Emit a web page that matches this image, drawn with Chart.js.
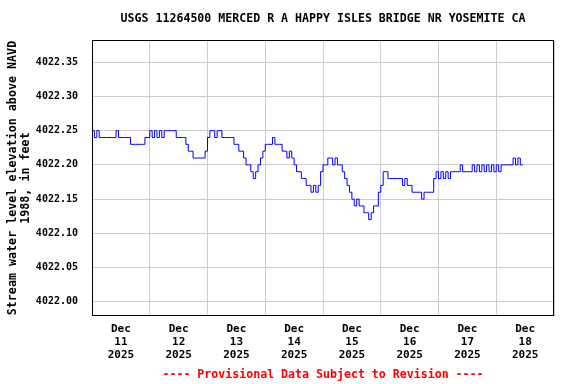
<!DOCTYPE html>
<html>
<head>
<meta charset="utf-8">
<script src="https://cdn.jsdelivr.net/npm/chart.js@4.4.1/dist/chart.umd.min.js"></script>
<style>
  html, body { margin: 0; padding: 0; background: #ffffff; }
  #wrap { width: 576px; height: 384px; }
</style>
</head>
<body>
<div id="wrap"><canvas id="c" width="576" height="384"></canvas></div>
<script>
// ---- Data (hourly readings starting Dec 11 2025 00:00) ----
const titleText = 'USGS 11264500 MERCED R A HAPPY ISLES BRIDGE NR YOSEMITE CA';
const yAxisTitle = ['Stream water level elevation above NAVD', '1988, in feet'];
const footerText = '---- Provisional Data Subject to Revision ----';
const monthLabel = 'Dec';
const yearLabel = '2025';
const dayLabels = ['11', '12', '13', '14', '15', '16', '17', '18'];
const yTickValues = [4022.00, 4022.05, 4022.10, 4022.15, 4022.20, 4022.25, 4022.30, 4022.35];

const dec11 = [4022.25,4022.24,4022.25,4022.24,4022.24,4022.24,4022.24,4022.24,4022.24,4022.24,4022.25,4022.24,
               4022.24,4022.24,4022.24,4022.24,4022.23,4022.23,4022.23,4022.23,4022.23,4022.23,4022.24,4022.24];
const dec12 = [4022.25,4022.24,4022.25,4022.24,4022.25,4022.24,4022.25,4022.25,4022.25,4022.25,4022.25,4022.24,
               4022.24,4022.24,4022.24,4022.23,4022.22,4022.22,4022.21,4022.21,4022.21,4022.21,4022.21,4022.22];
const dec13 = [4022.24,4022.25,4022.25,4022.24,4022.25,4022.25,4022.24,4022.24,4022.24,4022.24,4022.24,4022.23,
               4022.23,4022.22,4022.22,4022.21,4022.20,4022.20,4022.19,4022.18,4022.19,4022.20,4022.21,4022.22];
const dec14 = [4022.23,4022.23,4022.23,4022.24,4022.23,4022.23,4022.23,4022.22,4022.22,4022.21,4022.22,4022.21,
               4022.20,4022.19,4022.19,4022.18,4022.18,4022.17,4022.17,4022.16,4022.17,4022.16,4022.17,4022.19];
const dec15 = [4022.20,4022.20,4022.21,4022.21,4022.20,4022.21,4022.20,4022.20,4022.19,4022.18,4022.17,4022.16,
               4022.15,4022.14,4022.15,4022.14,4022.14,4022.13,4022.13,4022.12,4022.13,4022.14,4022.14,4022.16];
const dec16 = [4022.17,4022.19,4022.19,4022.18,4022.18,4022.18,4022.18,4022.18,4022.18,4022.17,4022.18,4022.17,
               4022.17,4022.16,4022.16,4022.16,4022.16,4022.15,4022.16,4022.16,4022.16,4022.16,4022.18,4022.19];
const dec17 = [4022.18,4022.19,4022.18,4022.19,4022.18,4022.19,4022.19,4022.19,4022.19,4022.20,4022.19,4022.19,
               4022.19,4022.19,4022.20,4022.19,4022.20,4022.19,4022.20,4022.19,4022.20,4022.19,4022.20,4022.19];
const dec18 = [4022.20,4022.19,4022.20,4022.20,4022.20,4022.20,4022.20,4022.21,4022.20,4022.21,4022.20,4022.20];

const levels = [].concat(dec11, dec12, dec13, dec14, dec15, dec16, dec17, dec18);

// ---- Chart ----
const FONT = '"DejaVu Sans Mono", "Liberation Mono", monospace';

const frame = {
  id: 'frame',
  afterDraw(chart) {
    const {ctx, chartArea: a} = chart;
    ctx.save();
    ctx.strokeStyle = '#000000';
    ctx.lineWidth = 1;
    const l = Math.round(a.left) + 0.5, t = Math.round(a.top) + 0.5;
    const r = Math.round(a.right) - 0.5, b = Math.round(a.bottom) - 0.5;
    ctx.strokeRect(l, t, r - l, b - t);
    ctx.restore();
  }
};

new Chart(document.getElementById('c'), {
  type: 'line',
  data: {
    datasets: [{
      data: levels.map((v, i) => ({x: i, y: v})),
      borderColor: '#0000ff',
      borderWidth: 1,
      pointRadius: 0,
      stepped: 'before',
      fill: false
    }]
  },
  options: {
    responsive: false,
    animation: false,
    devicePixelRatio: 1,
    layout: { padding: { left: 0, right: 22, top: 0, bottom: 0 } },
    plugins: {
      legend: { display: false },
      tooltip: { enabled: false },
      title: {
        display: true,
        text: titleText,
        fullSize: false,
        color: '#000000',
        font: { family: FONT, size: 11.6, weight: 'bold', lineHeight: 1.2 },
        padding: { top: 12, bottom: 14.08 }
      },
      subtitle: {
        display: true,
        position: 'bottom',
        text: footerText,
        fullSize: false,
        color: '#ff0000',
        font: { family: FONT, size: 11.6, weight: 'bold', lineHeight: 1.2 },
        padding: { top: 7, bottom: 2 }
      }
    },
    scales: {
      x: {
        type: 'linear',
        min: 0,
        max: 192,
        afterBuildTicks(scale) {
          const t = [];
          for (let i = 0; i <= dayLabels.length * 2; i++) t.push({ value: i * 12 });
          scale.ticks = t;
        },
        afterFit(scale) { scale.height = 45; },
        border: { display: false },
        grid: {
          drawTicks: false,
          color: (c) => (c.tick && c.tick.value % 24 === 0) ? '#cccccc' : 'rgba(0,0,0,0)',
          lineWidth: 1
        },
        ticks: {
          autoSkip: false,
          maxRotation: 0,
          minRotation: 0,
          padding: 7,
          color: '#000000',
          font: { family: FONT, size: 11, weight: 'bold', lineHeight: 1.18 },
          callback: (v) => {
            if (v % 24 !== 12) return '';
            const d = dayLabels[Math.floor(v / 24)];
            return d ? [monthLabel, d, yearLabel] : '';
          }
        }
      },
      y: {
        type: 'linear',
        min: 4021.979,
        max: 4022.3825,
        afterBuildTicks(scale) {
          scale.ticks = yTickValues.map(v => ({ value: v }));
        },
        afterFit(scale) { scale.width = 92; },
        border: { display: false },
        grid: { drawTicks: false, color: '#cccccc', lineWidth: 1 },
        title: {
          display: true,
          text: yAxisTitle,
          color: '#000000',
          font: { family: FONT, size: 11.7, weight: 'bold', lineHeight: 1.11 },
          padding: { top: 6, bottom: 0 }
        },
        ticks: {
          padding: 14,
          color: '#000000',
          font: { family: FONT, size: 10, weight: 'bold' },
          callback: (v) => Number(v).toFixed(2)
        }
      }
    }
  },
  plugins: [frame]
});
</script>
</body>
</html>
